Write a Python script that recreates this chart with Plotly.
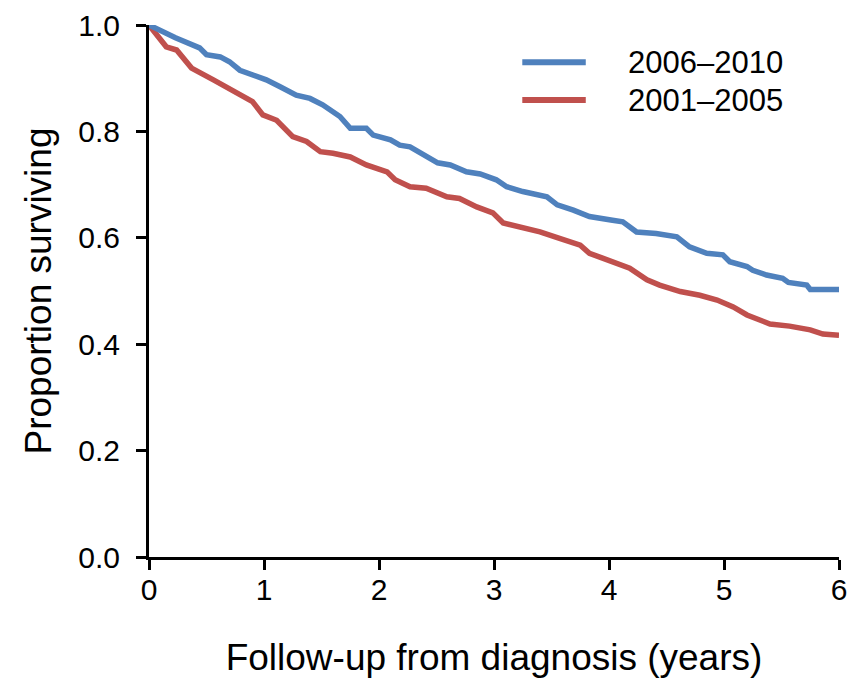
import plotly.graph_objects as go

# Survival estimates (time in years, proportion surviving)
t_2006_2010 = [0.00, 0.23, 0.44, 0.50, 0.62, 0.70, 0.79, 1.02, 1.14, 1.28, 1.40, 1.51, 1.66, 1.75,
               1.89, 1.95, 2.10, 2.18, 2.27, 2.38, 2.51, 2.62, 2.76, 2.88, 3.02, 3.11, 3.25, 3.46,
               3.55, 3.69, 3.83, 4.03, 4.12, 4.24, 4.41, 4.59, 4.70, 4.85, 4.99, 5.05, 5.20, 5.25,
               5.37, 5.51, 5.56, 5.72, 5.75, 6.00]
s_2006_2010 = [1.000, 0.976, 0.957, 0.944, 0.940, 0.931, 0.915, 0.897, 0.884, 0.868, 0.862, 0.850,
               0.828, 0.806, 0.806, 0.793, 0.784, 0.774, 0.771, 0.756, 0.741, 0.737, 0.724, 0.720,
               0.709, 0.696, 0.687, 0.677, 0.662, 0.652, 0.640, 0.633, 0.630, 0.611, 0.608, 0.602,
               0.583, 0.571, 0.568, 0.555, 0.546, 0.539, 0.530, 0.524, 0.516, 0.511, 0.503, 0.503]

t_2001_2005 = [0.00, 0.15, 0.24, 0.37, 0.56, 0.64, 0.79, 0.90, 0.99, 1.11, 1.25, 1.37, 1.49, 1.60,
               1.75, 1.89, 2.07, 2.14, 2.27, 2.41, 2.59, 2.70, 2.85, 2.99, 3.08, 3.23, 3.40, 3.57,
               3.75, 3.83, 3.98, 4.18, 4.33, 4.44, 4.62, 4.79, 4.94, 5.08, 5.20, 5.32, 5.40, 5.57,
               5.75, 5.86, 6.00]
s_2001_2005 = [1.000, 0.959, 0.953, 0.919, 0.897, 0.887, 0.868, 0.856, 0.831, 0.821, 0.790, 0.781,
               0.762, 0.759, 0.752, 0.737, 0.724, 0.709, 0.696, 0.693, 0.677, 0.674, 0.658, 0.647,
               0.628, 0.621, 0.611, 0.599, 0.586, 0.571, 0.558, 0.543, 0.521, 0.511, 0.499, 0.492,
               0.483, 0.470, 0.455, 0.445, 0.438, 0.434, 0.427, 0.419, 0.417]

series_names = ["2006–2010", "2001–2005"]
series_colors = ["#4F81BD", "#C0504D"]
x_ticks = [0, 1, 2, 3, 4, 5, 6]
y_ticks = [0.0, 0.2, 0.4, 0.6, 0.8, 1.0]

FONT = "Liberation Sans, Arial, sans-serif"

fig = go.Figure()
for t, s, name, col in [(t_2001_2005, s_2001_2005, series_names[1], series_colors[1]),
                        (t_2006_2010, s_2006_2010, series_names[0], series_colors[0])]:
    fig.add_trace(go.Scatter(x=t, y=s, mode="lines", name=name,
                             line=dict(color=col, width=5.5),
                             cliponaxis=False, showlegend=False))

# manual legend (line samples + labels)
leg_y = [0.930, 0.859]
for i, (name, col) in enumerate(zip(series_names, series_colors)):
    fig.add_shape(type="line", xref="paper", yref="paper",
                  x0=0.541, x1=0.633, y0=leg_y[i], y1=leg_y[i],
                  line=dict(color=col, width=6))
    fig.add_annotation(xref="paper", yref="paper", x=0.691, y=leg_y[i],
                       text=name, showarrow=False, xanchor="left", yanchor="middle",
                       font=dict(family=FONT, size=31, color="black"))

axis_common = dict(showline=True, linecolor="black", linewidth=3, ticks="outside",
                   ticklen=10, tickwidth=3, tickcolor="black", showgrid=False,
                   zeroline=False, tickfont=dict(family=FONT, size=30, color="black"))

fig.update_xaxes(range=[0, 6], tickvals=x_ticks, ticktext=[str(v) for v in x_ticks],
                 title=dict(text="Follow-up from diagnosis (years)",
                            font=dict(family=FONT, size=37, color="black"), standoff=40),
                 ticklabelstandoff=-6, **axis_common)
fig.update_yaxes(range=[0, 1], tickvals=y_ticks, ticktext=[f"{v:.1f}" for v in y_ticks],
                 title=dict(text="Proportion surviving",
                            font=dict(family=FONT, size=37, color="black"), standoff=16),
                 ticklabelstandoff=10, **axis_common)

fig.update_layout(width=860, height=680, margin=dict(l=149, r=21, t=25, b=123, autoexpand=False),
                  plot_bgcolor="white", paper_bgcolor="white",
                  font=dict(family=FONT, color="black"))

fig.write_html("out.html")
